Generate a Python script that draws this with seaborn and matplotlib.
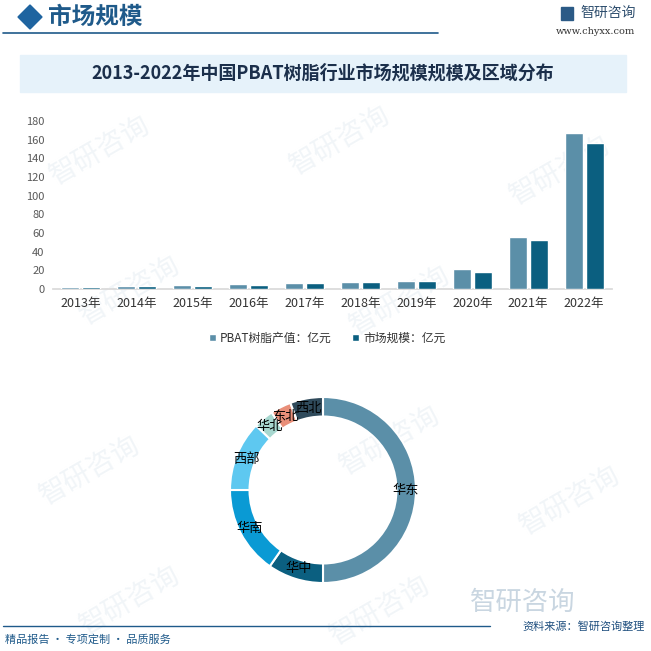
import pandas as pd
import matplotlib.pyplot as plt
import seaborn as sns
from matplotlib.patches import Rectangle, Polygon

years = ['2013年', '2014年', '2015年', '2016年', '2017年', '2018年', '2019年', '2020年', '2021年', '2022年']
output_value = [2.1, 3.2, 4.3, 5.3, 6.4, 7.3, 8.5, 21.3, 55.4, 167.0]
market_size = [2.1, 3.2, 3.2, 4.3, 6.4, 7.3, 8.5, 18.0, 52.0, 156.5]
series_names = ['PBAT树脂产值：亿元', '市场规模：亿元']

regions = ['华东', '华中', '华南', '西部', '华北', '东北', '西北']
region_share = [50.0, 9.7, 15.3, 12.2, 3.5, 3.6, 5.7]
region_colors = ['#5b8fa8', '#0b5f80', '#0a9ad4', '#5ec8f0', '#a7d7cf', '#e98f79', '#2f4a5b']

sns.set_theme(style='white')
plt.rcParams['font.family'] = ['Noto Sans CJK SC', 'DejaVu Sans']

W = H = 651
fig = plt.figure(figsize=(6.51, 6.51), dpi=100)


def fx(x):
    return x / W


def fy(y):
    return 1 - y / H


# faint watermarks, behind everything
for (wx, wy) in [(100, 150), (340, 140), (560, 170), (130, 290), (400, 300),
                 (90, 470), (390, 440), (570, 500), (130, 600), (380, 610)]:
    fig.text(fx(wx), fy(wy), '智研咨询', fontsize=20, color='#f1f5f8', rotation=30,
             ha='center', va='center', zorder=-5)

# header
fig.patches.append(Polygon([(fx(18), fy(17)), (fx(30), fy(5)), (fx(42), fy(17)), (fx(30), fy(29))],
                           closed=True, transform=fig.transFigure, color='#1f64a0'))
fig.text(fx(48), fy(17), '市场规模', fontsize=17, fontweight='bold', color='#1f5a8a', va='center')
fig.add_artist(plt.Line2D([fx(3), fx(438)], [fy(33), fy(33)], color='#1f5a8a', lw=1.2,
                          transform=fig.transFigure))
fig.patches.append(Rectangle((fx(561), fy(20)), 12 / W, 13 / H, transform=fig.transFigure, color='#2b5a86'))
fig.text(fx(580), fy(13), '智研咨询', fontsize=10, color='#2e4e6e', va='center')
fig.text(fx(556), fy(32), 'www.chyxx.com', fontsize=7, color='#333333', va='center', family='DejaVu Serif')

# title band
fig.patches.append(Rectangle((fx(20), fy(92)), 606 / W, 37 / H, transform=fig.transFigure,
                             color='#e6f2fa', zorder=1))
fig.text(fx(323), fy(73), '2013-2022年中国PBAT树脂行业市场规模规模及区域分布', fontsize=13,
         fontweight='bold', color='#1b2f4b', ha='center', va='center', zorder=2)

# bar chart
df = pd.DataFrame({
    '年份': years * 2,
    '数值': output_value + market_size,
    '指标': [series_names[0]] * len(years) + [series_names[1]] * len(years),
})
ax = fig.add_axes([fx(53), fy(289), (612 - 53) / W, (289 - 121) / H])
sns.barplot(data=df, x='年份', y='数值', hue='指标', palette=['#5b8fa8', '#0b5f80'],
            saturation=1, width=0.75, gap=0.14, ax=ax, legend=True)
ax.set_ylim(0, 180)
ax.set_yticks(range(0, 181, 20))
ax.set_xlabel('')
ax.set_ylabel('')
ax.tick_params(axis='y', labelsize=8, labelcolor='#595959', length=0, pad=6)
ax.tick_params(axis='x', labelsize=9, labelcolor='#333333', length=0, pad=6)
sns.despine(ax=ax, left=True)
ax.spines['bottom'].set_color('#d9d9d9')
ax.spines['bottom'].set_zorder(0.5)
ax.patch.set_alpha(0)
leg = ax.legend(loc='upper center', bbox_to_anchor=(0.49, -0.19), ncol=2, frameon=False,
                fontsize=8.5, handlelength=0.6, handleheight=0.6, handletextpad=0.3, columnspacing=1.8)
for t in leg.get_texts():
    t.set_color('#333333')

# donut
r = 93
pax = fig.add_axes([fx(323 - r), fy(490 + r), 2 * r / W, 2 * r / H])
wedges, texts = pax.pie(region_share, labels=regions, colors=region_colors, startangle=90,
                        counterclock=False, labeldistance=0.89,
                        wedgeprops=dict(width=0.21, edgecolor='white', linewidth=1.5),
                        textprops=dict(fontsize=9.5, color='black'))
for t in texts:
    t.set_ha('center')
    t.set_va('center')
pax.set_xlim(-1, 1)
pax.set_ylim(-1, 1)
pax.set_aspect('equal')
pax.axis('off')

# footer
fig.text(fx(470), fy(602), '智研咨询', fontsize=19, color='#c9d6e1', va='center', zorder=-1)
fig.add_artist(plt.Line2D([fx(3), fx(490)], [fy(626), fy(626)], color='#1f5a8a', lw=1.0,
                          transform=fig.transFigure))
fig.text(fx(645), fy(627), '资料来源：智研咨询整理', fontsize=8, color='#1f4f7f', ha='right', va='center')
fig.text(fx(5), fy(640), '精品报告 · 专项定制 · 品质服务', fontsize=8, color='#1f5a8a', va='center')

fig.savefig('out.png', dpi=100)
